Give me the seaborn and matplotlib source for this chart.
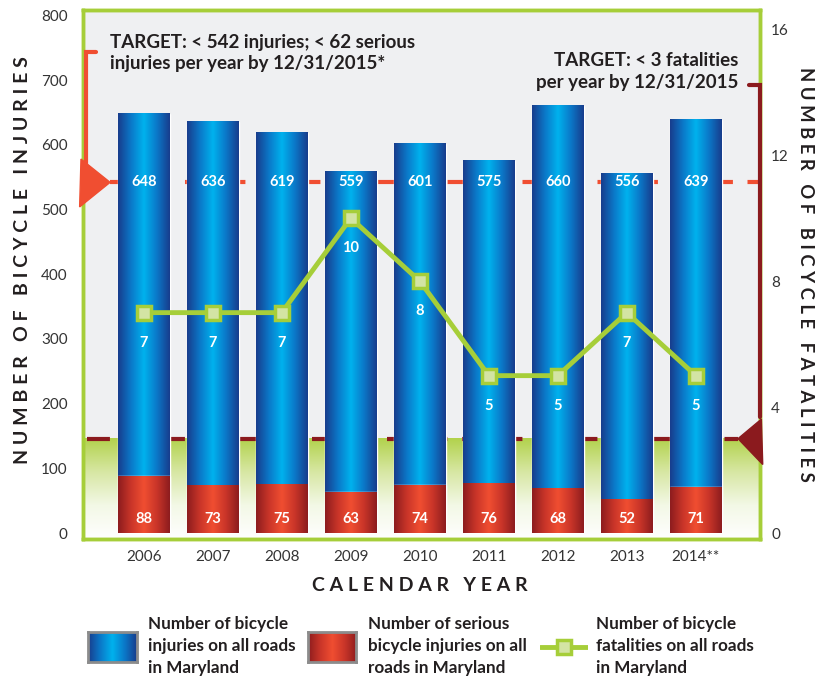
import numpy as np
import matplotlib
matplotlib.use("Agg")
import matplotlib.pyplot as plt
import matplotlib.transforms as mtransforms
from matplotlib.colors import LinearSegmentedColormap
from matplotlib.patches import Polygon
import seaborn as sns

# data
years = ["2006", "2007", "2008", "2009", "2010", "2011", "2012", "2013", "2014**"]
injuries = [648, 636, 619, 559, 601, 575, 660, 556, 639]
serious = [88, 73, 75, 63, 74, 76, 68, 52, 71]
fatalities = [7, 7, 7, 10, 8, 5, 5, 7, 5]
injury_target = 542
fatality_target = 3
left_ticks = [0, 100, 200, 300, 400, 500, 600, 700, 800]
right_ticks = [0, 4, 8, 12, 16]
legend_labels = ["Number of bicycle\ninjuries on all roads\nin Maryland",
                 "Number of serious\nbicycle injuries on all\nroads in Maryland",
                 "Number of bicycle\nfatalities on all roads\nin Maryland"]

sns.set_style("white")
plt.rcParams["font.family"] = ["Lato", "DejaVu Sans"]

TXT = "#231f20"
GREEN = "#a6ce39"
RED = "#f04e31"
DARKRED = "#8b1a1e"
blue_cmap = LinearSegmentedColormap.from_list(
    "b", ["#183c8c", "#0b78c8", "#00b2ee", "#0b78c8", "#183c8c"])
red_cmap = LinearSegmentedColormap.from_list(
    "r", ["#8c1c1e", "#c93529", "#f04e31", "#c93529", "#8c1c1e"])
green_cmap = LinearSegmentedColormap.from_list(
    "g", ["#ffffff", "#f3f8e6", "#d7e7a3", "#b2d24c"])
hgrad = np.linspace(0, 1, 256).reshape(1, -1)

fig = plt.figure(figsize=(8.22, 6.78), dpi=100)
ax = fig.add_axes([0.101, 0.205, 0.8236, 0.780])
ax.set_facecolor("#eff0f2")

sns.barplot(x=years, y=injuries, color="#0b78c8", width=0.75,
            errorbar=None, ax=ax, zorder=3)
sns.barplot(x=years, y=serious, color="#c93529", width=0.75,
            errorbar=None, ax=ax, zorder=4)

# gradient fill on each bar
for i, p in enumerate(list(ax.patches)):
    cmap = blue_cmap if i < len(years) else red_cmap
    x0, y0, w, h = p.get_x(), p.get_y(), p.get_width(), p.get_height()
    ax.imshow(hgrad, cmap=cmap, extent=(x0, x0 + w, y0, y0 + h),
              aspect="auto", zorder=p.get_zorder() + 0.1, interpolation="bicubic")

ax2 = ax.twinx()
sns.lineplot(x=np.arange(len(years)), y=fatalities, ax=ax2, color=GREEN, lw=3.5,
             marker="s", markersize=10, markerfacecolor="#d3e4a4",
             markeredgecolor=GREEN, markeredgewidth=2.5, zorder=5)

ylim_left = (-9, 808)
ylim_right = (-0.185, 16.6)
xlim = (-0.88, 8.93)

blend_r = mtransforms.blended_transform_factory(ax.transAxes, ax2.transData)
blend_l = mtransforms.blended_transform_factory(ax.transAxes, ax.transData)
blend_l2 = mtransforms.blended_transform_factory(ax2.transAxes, ax.transData)

# green zone below fatality target
ax.imshow(np.linspace(0, 1, 256).reshape(-1, 1), cmap=green_cmap, origin="lower",
          extent=(0, 1, ylim_right[0], fatality_target), transform=blend_r,
          aspect="auto", zorder=0.5)

# target lines
ax.plot([0.04, 1], [injury_target] * 2, transform=blend_l, color=RED, lw=3,
        ls=(0, (5.5, 3.5)), zorder=2)
ax.plot([0.006, 0.968], [fatality_target] * 2, transform=blend_r, color=DARKRED,
        lw=3, ls=(0, (5.5, 3.5)), zorder=2)

# brackets and arrows (on the twin so they sit over the green frame)
ax2.plot([0.019, 0.0045, 0.0045], [0.921, 0.921, 0.70], transform=ax2.transAxes,
         color=RED, lw=3, clip_on=False, zorder=10, solid_joinstyle="miter")
ax2.add_patch(Polygon([(-0.003, injury_target + 36), (0.040, injury_target),
                       (-0.005, injury_target - 38)], closed=True, transform=blend_l2,
                      color=RED, clip_on=False, zorder=10))
ax2.plot([0.984, 1.0, 1.0], [0.858, 0.858, 0.23], transform=ax2.transAxes,
         color=DARKRED, lw=3, clip_on=False, zorder=10, solid_joinstyle="miter")
ax2.add_patch(Polygon([(1.002, fatality_target + 0.62), (0.9675, fatality_target),
                       (1.004, fatality_target - 0.82)], closed=True, transform=blend_r,
                      color=DARKRED, clip_on=False, zorder=10))

# value labels
lab = dict(color="white", fontweight="bold", fontsize=10.5, ha="center", va="center")
for i in range(len(years)):
    ax.text(i, injury_target, str(injuries[i]), zorder=6, **lab)
    ax.text(i, 22, str(serious[i]), zorder=6, **lab)
    ax2.text(i, fatalities[i] - 0.95, str(fatalities[i]), zorder=6, **lab)

# target notes
ax2.text(0.04, 0.955, "TARGET: < 542 injuries; < 62 serious\ninjuries per year by 12/31/2015*",
         transform=ax2.transAxes, ha="left", va="top", fontsize=13.5, fontweight="bold",
         color=TXT, linespacing=1.3, zorder=10)
ax2.text(0.968, 0.92, "TARGET: < 3 fatalities\nper year by 12/31/2015",
         transform=ax2.transAxes, ha="right", va="top", fontsize=13.5, fontweight="bold",
         color=TXT, linespacing=1.3, zorder=10)

# axes styling
ax.set_xlim(*xlim)
ax.set_ylim(*ylim_left)
ax2.set_ylim(*ylim_right)
ax.set_yticks(left_ticks)
ax2.set_yticks(right_ticks)
ax.set_xlabel("")
ax.set_ylabel("")
ax2.set_ylabel("")
ax.tick_params(axis="x", length=0, pad=8, labelsize=11, colors="#333333")
ax.tick_params(axis="y", length=0, pad=11, labelsize=11, colors="#333333")
ax2.tick_params(axis="y", length=0, pad=8, labelsize=11, colors="#333333")
for a in (ax, ax2):
    for s in a.spines.values():
        s.set_color(GREEN)
        s.set_linewidth(2.5)
ax2.patch.set_visible(False)

# axis titles with letter spacing
fig.text(0.027, 0.617, "N U M B E R   O F   B I C Y C L E   I N J U R I E S",
         rotation=90, ha="center", va="center", fontsize=14, fontweight="bold", color=TXT)
fig.text(0.980, 0.596, "N U M B E R   O F   B I C Y C L E   F A T A L I T I E S",
         rotation=-90, ha="center", va="center", fontsize=13.3, fontweight="bold", color=TXT)
fig.text(0.511, 0.136, "C A L E N D A R   Y E A R", ha="center", va="center",
         fontsize=14, fontweight="bold", color=TXT)

# legend
sw_blue = fig.add_axes([0.107, 0.0236, 0.0596, 0.0442])
sw_red = fig.add_axes([0.3747, 0.0236, 0.0584, 0.0442])
for sw, cmap in ((sw_blue, blue_cmap), (sw_red, red_cmap)):
    sw.imshow(hgrad, cmap=cmap, aspect="auto", interpolation="bicubic")
    sw.set_xticks([])
    sw.set_yticks([])
    for s in sw.spines.values():
        s.set_color("#8c8c8c")
        s.set_linewidth(2)
sw_line = fig.add_axes([0.657, 0.0236, 0.0584, 0.0442])
sw_line.plot([0, 0.5, 1], [0, 0, 0], color=GREEN, lw=3.5, marker="s", markevery=[1],
             markersize=10, markerfacecolor="#d3e4a4", markeredgecolor=GREEN,
             markeredgewidth=2.5)
sw_line.set_xlim(0, 1)
sw_line.axis("off")

for xpos, text in zip([0.180, 0.4477, 0.725], legend_labels):
    fig.text(xpos, 0.047, text, ha="left", va="center", fontsize=12.3,
             fontweight="bold", color=TXT, linespacing=1.45)

fig.savefig("out.png", dpi=100)
